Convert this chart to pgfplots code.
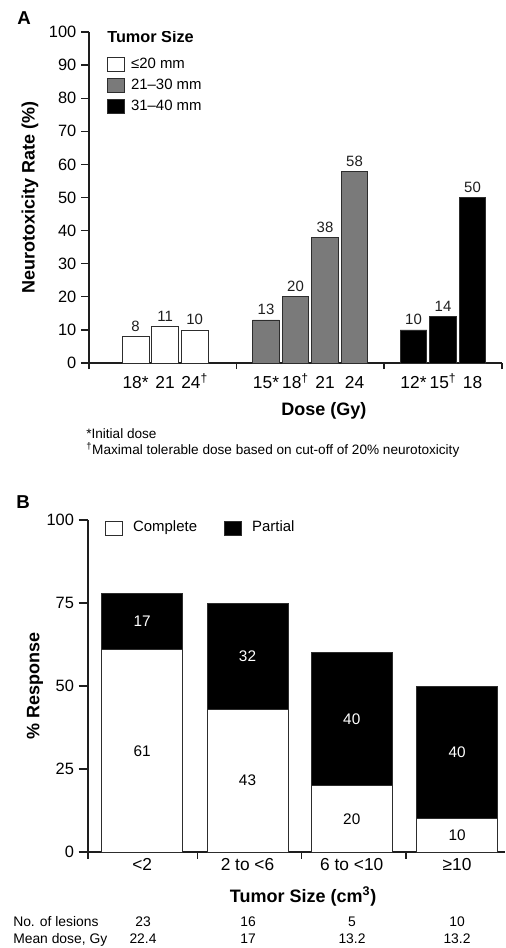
\documentclass[border=0pt]{standalone}
\usepackage{pgfplots}
\pgfplotsset{compat=1.18}
\usepackage{fontspec}
\setmainfont{Liberation Sans}
\definecolor{bargray}{RGB}{122,122,122}
\definecolor{edge}{RGB}{45,45,45}
\definecolor{axc}{RGB}{30,30,30}
\newcommand{\fs}[1]{\fontsize{#1}{#1}\selectfont}
\newcommand{\sdag}{\textsuperscript{†}}
\pgfplotsset{
  boxlegend/.style={legend image code/.code={\draw[##1,line width=0.6pt] (0pt,-5.25pt) rectangle (12.75pt,5.25pt);}},
}
\begin{document}
\begin{tikzpicture}[x=0.75pt,y=-0.75pt]
\useasboundingbox (0,0) rectangle (506,948);
\node[font=\bfseries\fs{14}] at (24,18) {A};
\node[font=\bfseries\fs{14}] at (23,502) {B};

\begin{axis}[
  at={({89*0.75pt},{-363*0.75pt})}, anchor=south west, scale only axis,
  width=309.75pt, height=248.25pt,
  xmin=0, xmax=14, ymin=0, ymax=100,
  axis lines=left,
  axis line style={-, line width=1pt, color=axc},
  tick align=outside, major tick length=6pt,
  every tick/.style={line width=1pt, axc},
  ytick={0,10,...,100},
  /pgf/number format/assume math mode=true,
  yticklabel style={font=\fs{12.3}},
  xtick={1.58,2.58,3.58,6,7,8,9,11,12,13},
  xticklabels={18*,21,24\sdag,15*,18\sdag,21,24,12*,15\sdag,18},
  x tick style={draw=none},
  xticklabel style={font=\fs{13}, text height=9.5pt, text depth=0pt},
  extra x ticks={0,5,10,14},
  extra x tick labels={},
  extra x tick style={x tick style={draw=axc}, major tick length=4.5pt},
  xlabel={Dose (Gy)},
  xlabel style={font=\bfseries\fs{13.5}, at={(axis description cs:0.569,-0.145)}, anchor=center},
  ylabel={Neurotoxicity Rate (\%)},
  ylabel style={font=\bfseries\fs{13.5}, at={(axis description cs:-0.143,0.5)}, anchor=center},
  nodes near coords,
  nodes near coords style={font=\fs{11.2}, axc},
  legend style={at={(axis description cs:0.0436,0.928)}, anchor=north west, draw=none, fill=none,
    font=\fs{11.2}, inner sep=0pt, row sep=3.75pt,
    nodes={inner sep=0.5pt, text height=8.5pt, text depth=2.5pt},
    /tikz/every odd column/.append style={column sep=4pt}},
  legend cell align=left,
]
\node[anchor=base west, inner sep=0, font=\bfseries\fs{12.2}] at (rel axis cs:0.0436,0.967) {Tumor Size};
\addplot[ybar, bar width=20pt, bar shift=0pt, fill=white, draw=edge, line width=0.6pt, boxlegend]
  coordinates {(1.58,8) (2.58,11) (3.58,10)};
\addlegendentry{≤20 mm}
\addplot[ybar, bar width=20pt, bar shift=0pt, fill=bargray, draw=edge, line width=0.6pt, boxlegend]
  coordinates {(6,13) (7,20) (8,38) (9,58)};
\addlegendentry{21–30 mm}
\addplot[ybar, bar width=20pt, bar shift=0pt, fill=black, draw=edge, line width=0.6pt, boxlegend]
  coordinates {(11,10) (12,14) (13,50)};
\addlegendentry{31–40 mm}
\end{axis}

\node[anchor=base west, inner sep=0, font=\fs{10.2}] at (86,438) {*Initial dose};
\node[anchor=base west, inner sep=0, font=\fs{10.2}] at (86,454) {\textsuperscript{†}Maximal tolerable dose based on cut-off of 20\% neurotoxicity};

\begin{axis}[
  at={({88*0.75pt},{-852*0.75pt})}, anchor=south west, scale only axis,
  width=312.75pt, height=249pt,
  xmin=0, xmax=4, ymin=0, ymax=100,
  axis lines=left,
  axis line style={-, line width=1pt, color=axc},
  tick align=outside, major tick length=7pt,
  every tick/.style={line width=1pt, axc},
  ytick={0,25,50,75,100},
  /pgf/number format/assume math mode=true,
  yticklabel style={font=\fs{12.3}},
  xtick={0.52,1.53,2.53,3.54},
  xticklabels={<2,2 to <6,6 to <10,≥10},
  x tick style={draw=none},
  xticklabel style={font=\fs{13}, text height=9.5pt, text depth=0pt, yshift=6pt},
  extra x ticks={0,1.05,2.05,3.05},
  extra x tick labels={},
  extra x tick style={x tick style={draw=axc}, major tick length=5pt},
  xlabel={Tumor Size (cm\textsuperscript{3})},
  xlabel style={font=\bfseries\fs{13.5}, at={(axis description cs:0.516,-0.1325)}, anchor=center},
  ylabel={\% Response},
  ylabel style={font=\bfseries\fs{13.5}, at={(axis description cs:-0.127,0.5)}, anchor=center},
  ybar stacked, bar width=60.75pt,
  legend columns=-1,
  legend style={at={(axis description cs:0.041,0.976)}, anchor=west, draw=none, fill=none,
    font=\fs{11.2}, inner sep=0pt,
    nodes={inner sep=0.5pt, text height=8.5pt, text depth=2.5pt},
    /tikz/every odd column/.append style={column sep=7pt},
    /tikz/every even column/.append style={column sep=20pt}},
  legend cell align=left,
]
\addplot[fill=white, draw=edge, line width=0.6pt, boxlegend]
  coordinates {(0.52,61) (1.53,43) (2.53,20) (3.54,10)};
\addlegendentry{Complete}
\addplot[fill=black, draw=edge, line width=0.6pt, boxlegend]
  coordinates {(0.52,17) (1.53,32) (2.53,40) (3.54,40)};
\addlegendentry{Partial}
\end{axis}

\begin{axis}[
  at={({88*0.75pt},{-852*0.75pt})}, anchor=south west, scale only axis,
  width=312.75pt, height=249pt,
  xmin=0, xmax=4, ymin=0, ymax=100, hide axis,
]
\addplot[draw=none, nodes near coords, point meta=explicit symbolic, nodes near coords align=center,
  nodes near coords style={font=\fs{11.5}, black}]
  coordinates {(0.52,30.5) [61] (1.53,21.5) [43] (2.53,10) [20] (3.54,5) [10]};
\addplot[draw=none, nodes near coords, point meta=explicit symbolic, nodes near coords align=center,
  nodes near coords style={font=\fs{11.5}, white}]
  coordinates {(0.52,69.5) [17] (1.53,59) [32] (2.53,40) [40] (3.54,30) [40]};
\end{axis}

\node[anchor=base west, inner sep=0, font=\fs{10.4}] at (13,926) {No. of lesions};
\node[anchor=base west, inner sep=0, font=\fs{10.4}] at (13,943) {Mean dose, Gy};
\foreach \x/\a/\b in {143/23/22.4, 248/16/17, 352/5/13.2, 457/10/13.2} {
  \node[anchor=base, inner sep=0, font=\fs{10.4}] at (\x,926) {\a};
  \node[anchor=base, inner sep=0, font=\fs{10.4}] at (\x,943) {\b};
}
\end{tikzpicture}
\end{document}
